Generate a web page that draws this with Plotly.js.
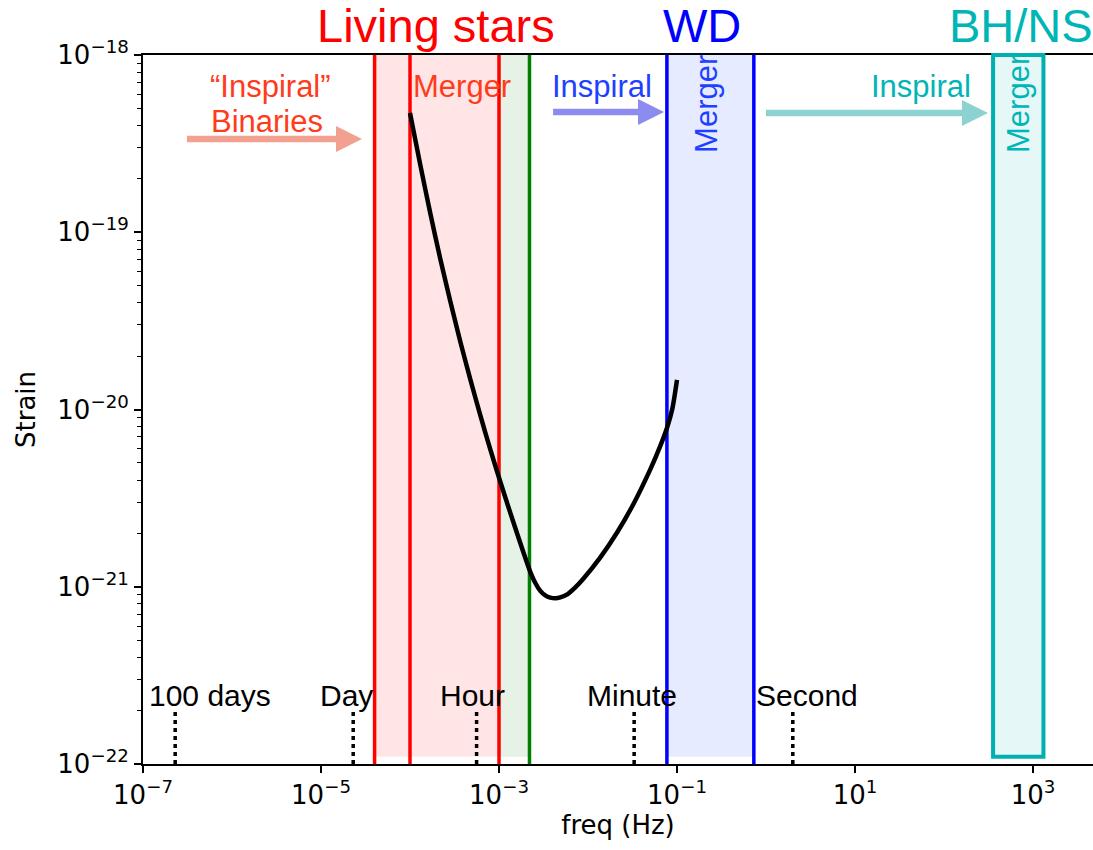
<!DOCTYPE html>
<html>
<head>
<meta charset="utf-8">
<script src="https://cdn.plot.ly/plotly-3.0.1.min.js"></script>
<style>
  html, body { margin: 0; padding: 0; background: #ffffff; }
  #chart { width: 1093px; height: 850px; }
</style>
</head>
<body>
<div id="chart"></div>
<script>
// Detector sensitivity curve: frequency (Hz) and strain
const curveFreq = [1.0e-4, 1.305e-4, 1.69e-4, 2.19e-4, 2.84e-4, 3.67e-4, 4.76e-4, 6.17e-4,
  7.98e-4, 1.034e-3, 1.34e-3, 1.73e-3, 2.25e-3, 2.56e-3, 2.91e-3, 3.31e-3, 3.77e-3, 4.29e-3,
  4.88e-3, 5.85e-3, 7.20e-3, 8.86e-3, 1.37e-2, 2.13e-2, 3.23e-2, 5.01e-2, 6.49e-2, 7.78e-2,
  8.86e-2, 0.1];
const curveStrain = [4.71e-19, 2.40e-19, 1.28e-19, 7.07e-20, 4.07e-20, 2.42e-20, 1.48e-20, 9.26e-21,
  5.96e-21, 3.91e-21, 2.61e-21, 1.77e-21, 1.21e-21, 1.05e-21, 9.48e-22, 8.94e-22, 8.68e-22, 8.60e-22,
  8.70e-22, 9.06e-22, 9.92e-22, 1.11e-21, 1.46e-21, 2.03e-21, 2.92e-21, 4.59e-21, 6.23e-21, 7.97e-21,
  1.01e-20, 1.47e-20];

// Orbital period markers (GW frequency) and their labels
const periodNames = ['100 days', 'Day', 'Hour', 'Minute', 'Second'];
const periodFreq = [2.3e-7, 2.3e-5, 5.6e-4, 3.3e-2, 2.0];
const periodLabelFreq = [5.7e-7, 1.94e-5, 5.08e-4, 3.15e-2, 2.89];
const periodMarkerStrain = [1e-22, 2e-22];
const periodLabelStrain = 2.45e-22;

// Source frequency bands (Hz)
const livingStarsLines = [4.0e-5, 1.0e-4, 1.0e-3];
const livingStarsBand = [4.0e-5, 1.0e-3];
const livingStarsEdge = [1.0e-3, 2.2e-3];
const wdBand = [0.077, 0.73];
const bhnsBand = [356, 1310];
const bandStrain = [1.1e-22, 1e-18];

// Axis ticks
const xTickVals = [1e-7, 1e-5, 1e-3, 1e-1, 1e1, 1e3];
const xTickText = ['10<sup>\u22127</sup>', '10<sup>\u22125</sup>', '10<sup>\u22123</sup>',
  '10<sup>\u22121</sup>', '10<sup>1</sup>', '10<sup>3</sup>'];
const yTickVals = [1e-22, 1e-21, 1e-20, 1e-19, 1e-18];
const yTickText = ['10<sup>\u221222</sup>', '10<sup>\u221221</sup>', '10<sup>\u221220</sup>',
  '10<sup>\u221219</sup>', '10<sup>\u221218</sup>'];

const X_RANGE = [-7, 3.674];
const Y_RANGE = [-22, -18];
const PLOT_W = 950, PLOT_H = 710;

const RED = '#FF0000', ORANGE_RED = '#FF3B1B', GREEN = '#008000';
const BLUE = '#0000FF', BLUE_TEXT = '#1E40FF', TEAL = '#00B0B0', TEAL_TEXT = '#00B5B5';

const minorY = [];
for (let e = -22; e < -18; e++) {
  for (let m = 2; m <= 9; m++) minorY.push(m * Math.pow(10, e));
}

// data -> paper helpers for the arrow glyphs
const xPaper = f => (Math.log10(f) - X_RANGE[0]) / (X_RANGE[1] - X_RANGE[0]);
const yPaper = h => (Math.log10(h) - Y_RANGE[0]) / (Y_RANGE[1] - Y_RANGE[0]);

const arrows = [
  { from: 3.12e-7, to: 2.89e-5, at: 3.36e-19, color: '#F2A090' },
  { from: 4.05e-3, to: 7.15e-2, at: 4.77e-19, color: '#8C8CF0' },
  { from: 1.0, to: 312, at: 4.71e-19, color: '#8CD2D0' }
];

function arrowPath(a) {
  const x0 = xPaper(a.from), x1 = xPaper(a.to), y = yPaper(a.at);
  const shaft = 3.2 / PLOT_H, headH = 13 / PLOT_H, headL = 26 / PLOT_W;
  const xb = x1 - headL;
  return `M${x0},${y - shaft} L${xb},${y - shaft} L${xb},${y - headH} L${x1},${y} ` +
         `L${xb},${y + headH} L${xb},${y + shaft} L${x0},${y + shaft} Z`;
}

const shapes = [];
// shaded bands
shapes.push({ type: 'rect', xref: 'x', yref: 'y', x0: livingStarsBand[0], x1: livingStarsBand[1],
  y0: bandStrain[0], y1: bandStrain[1], fillcolor: 'rgba(255,0,0,0.1)', line: { width: 0 }, layer: 'below' });
shapes.push({ type: 'rect', xref: 'x', yref: 'y', x0: livingStarsEdge[0], x1: livingStarsEdge[1],
  y0: bandStrain[0], y1: bandStrain[1], fillcolor: 'rgba(0,128,0,0.1)', line: { width: 0 }, layer: 'below' });
shapes.push({ type: 'rect', xref: 'x', yref: 'y', x0: wdBand[0], x1: wdBand[1],
  y0: bandStrain[0], y1: bandStrain[1], fillcolor: 'rgba(30,70,255,0.11)', line: { width: 0 }, layer: 'below' });
// band edges
livingStarsLines.forEach(f => shapes.push({ type: 'line', xref: 'x', yref: 'y', x0: f, x1: f,
  y0: 1e-22, y1: 1e-18, line: { color: RED, width: 3.5 }, layer: 'below' }));
shapes.push({ type: 'line', xref: 'x', yref: 'y', x0: livingStarsEdge[1], x1: livingStarsEdge[1],
  y0: 1e-22, y1: 1e-18, line: { color: GREEN, width: 3.5 }, layer: 'below' });
wdBand.forEach(f => shapes.push({ type: 'line', xref: 'x', yref: 'y', x0: f, x1: f,
  y0: 1e-22, y1: 1e-18, line: { color: BLUE, width: 3.5 }, layer: 'below' }));
// BH/NS merger box
shapes.push({ type: 'rect', xref: 'x', yref: 'paper', x0: bhnsBand[0], x1: bhnsBand[1],
  y0: yPaper(bandStrain[0]), y1: 1.0, fillcolor: 'rgba(0,176,176,0.1)',
  line: { color: TEAL, width: 4 }, layer: 'above' });
// inspiral arrows
arrows.forEach(a => shapes.push({ type: 'path', xref: 'paper', yref: 'paper', path: arrowPath(a),
  fillcolor: a.color, line: { width: 0 }, layer: 'above' }));

const traces = [];
periodFreq.forEach(f => traces.push({
  type: 'scatter', mode: 'lines', x: [f, f], y: periodMarkerStrain,
  line: { color: '#000000', width: 3.5, dash: '4px,4px' }, hoverinfo: 'skip', showlegend: false
}));
traces.push({
  type: 'scatter', mode: 'lines', x: curveFreq, y: curveStrain,
  line: { color: '#000000', width: 4.5, shape: 'spline', smoothing: 0.7 },
  hoverinfo: 'skip', showlegend: false
});

const LABEL_FONT = 'Liberation Sans, Arial, Helvetica, sans-serif';
const lg = Math.log10;
const annotations = [];
function label(text, logF, logH, size, color, angle) {
  annotations.push({ text: text, xref: 'x', yref: 'y', x: logF, y: logH, showarrow: false,
    xanchor: 'center', yanchor: 'middle', textangle: angle || 0,
    font: { family: LABEL_FONT, size: size, color: color } });
}
function heading(text, logF, size, color) {
  annotations.push({ text: text, xref: 'x', yref: 'paper', x: logF, y: 1.042, showarrow: false,
    xanchor: 'center', yanchor: 'middle',
    font: { family: LABEL_FONT, size: size, color: color } });
}
heading('Living stars', -3.708, 47, RED);
heading('WD', -0.719, 47, BLUE);
heading('BH/NS', 2.865, 47, TEAL_TEXT);
label('\u201CInspiral\u201D', -5.573, -18.180, 31, ORANGE_RED);
label('Binaries', -5.607, -18.377, 31, ORANGE_RED);
label('Merger', -3.416, -18.175, 31, ORANGE_RED);
label('Inspiral', -1.843, -18.175, 31, BLUE_TEXT);
label('Inspiral', 1.742, -18.175, 31, TEAL_TEXT);
label('Merger', -0.663, -18.276, 31, BLUE_TEXT, -90);
label('Merger', 2.843, -18.276, 31, TEAL_TEXT, -90);
periodNames.forEach((n, i) => label(n, lg(periodLabelFreq[i]), lg(periodLabelStrain), 30, '#000000'));

const TICK_FONT = { family: 'DejaVu Sans, sans-serif', size: 26, color: '#000000' };
const TITLE_FONT = { family: 'DejaVu Sans, sans-serif', size: 26, color: '#000000' };

const layout = {
  width: 1093, height: 850,
  margin: { l: 143, r: 0, t: 55, b: 86, pad: 0 },
  paper_bgcolor: '#ffffff', plot_bgcolor: '#ffffff',
  showlegend: false,
  xaxis: {
    type: 'log', range: X_RANGE, autorange: false,
    showgrid: false, zeroline: false,
    showline: true, linecolor: '#000000', linewidth: 2, mirror: true,
    ticks: 'outside', ticklen: 7, tickwidth: 2, tickcolor: '#000000',
    tickvals: xTickVals, ticktext: xTickText, tickfont: TICK_FONT,
    title: { text: 'freq (Hz)', font: TITLE_FONT, standoff: 6 }
  },
  yaxis: {
    type: 'log', range: Y_RANGE, autorange: false,
    showgrid: false, zeroline: false,
    showline: true, linecolor: '#000000', linewidth: 2,
    ticks: 'outside', ticklen: 7, tickwidth: 2, tickcolor: '#000000',
    tickvals: yTickVals, ticktext: yTickText, tickfont: TICK_FONT,
    minor: { tickvals: minorY, ticks: 'outside', ticklen: 4, tickwidth: 1, tickcolor: '#000000', showgrid: false },
    title: { text: 'Strain', font: TITLE_FONT, standoff: 14 }
  },
  shapes: shapes,
  annotations: annotations
};

Plotly.newPlot('chart', traces, layout, { displayModeBar: false, staticPlot: true });
</script>
</body>
</html>
